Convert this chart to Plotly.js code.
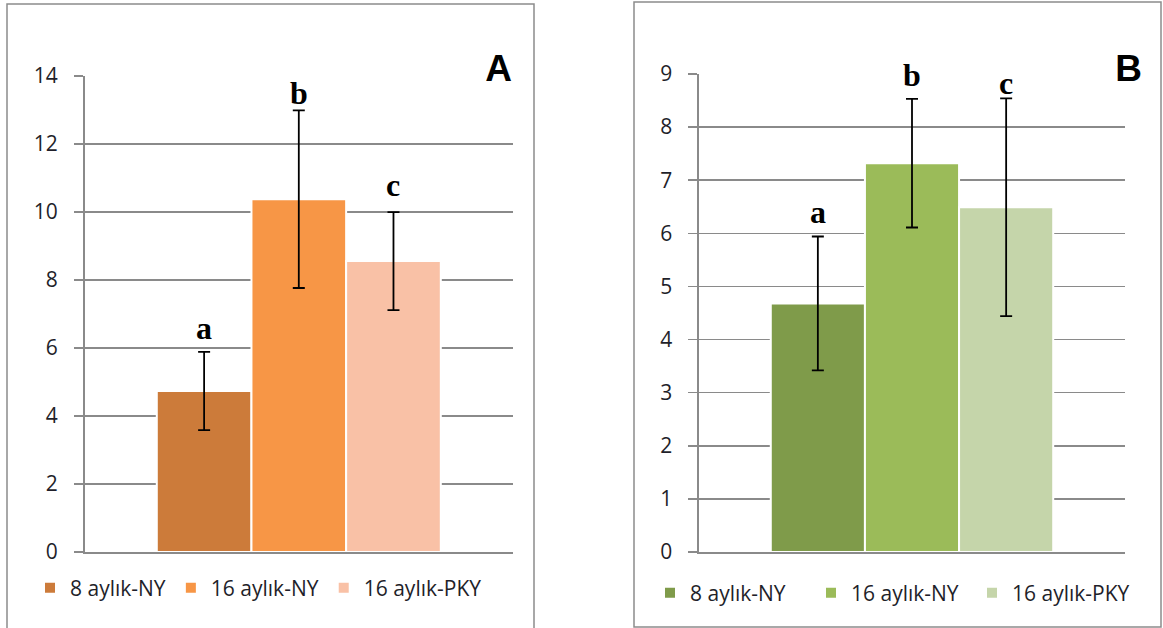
<!DOCTYPE html>
<html>
<head>
<meta charset="utf-8">
<script src="https://cdn.plot.ly/plotly-3.0.1.min.js"></script>
<style>
  html, body { margin: 0; padding: 0; background: #ffffff; }
  #chart { width: 1163px; height: 628px; }
</style>
</head>
<body>
<div id="chart"></div>
<script>
// Groups shown in both panels
const groups = ['8 aylık-NY', '16 aylık-NY', '16 aylık-PKY'];

// Panel A: means, standard errors and significance letters
const valuesA = [4.73, 10.37, 8.55];
const errorsA = [1.15, 2.61, 1.44];
const lettersA = ['a', 'b', 'c'];
const ticksA = [0, 2, 4, 6, 8, 10, 12, 14];

// Panel B: means, standard errors and significance letters
const valuesB = [4.68, 7.32, 6.49];
const errorsB = [1.26, 1.21, 2.05];
const lettersB = ['a', 'b', 'c'];
const ticksB = [0, 1, 2, 3, 4, 5, 6, 7, 8, 9];

const panelLabels = ['A', 'B'];

// ---- styling ----
const W = 1163, H = 628;
const px = x => x / W;
const py = y => 1 - y / H;

const coloursA = ['#CC7B3A', '#F79646', '#F9C1A6'];
const coloursB = ['#7F9B4A', '#9BBB59', '#C5D5AA'];
const gridColour = '#8a8a8a';
const textFont = { family: 'Open Sans, Liberation Sans, sans-serif', size: 21, color: '#1f1f2a' };
const letterFont = { family: 'Liberation Serif, serif', size: 32, color: '#000000' };
const BARGAP = 0.337;

// vertical offsets (px) of each letter above its error-bar cap
const letterLiftA = [4, -3, 7];
const letterLiftB = [5, 4, -5];

const category = ['grup'];

function panelTraces(values, errors, colours, xa, ya, legendId) {
  return groups.map((name, i) => ({
    type: 'bar',
    name: name,
    x: category,
    y: [values[i]],
    xaxis: xa,
    yaxis: ya,
    legend: legendId,
    marker: { color: colours[i], line: { color: '#ffffff', width: 2 } },
    error_y: {
      type: 'data', array: [errors[i]], visible: true,
      color: '#000000', thickness: 1.8, width: 6
    },
    hoverinfo: 'skip'
  }));
}

function letterAnnotations(values, errors, letters, lifts, xa, ya) {
  const step = (1 - BARGAP) / groups.length;
  return letters.map((t, i) => ({
    text: t,
    xref: xa, yref: ya,
    x: (i - (groups.length - 1) / 2) * step,
    y: values[i] + errors[i],
    xanchor: 'center', yanchor: 'bottom',
    yshift: lifts[i],
    showarrow: false,
    font: Object.assign({}, letterFont, { weight: 'bold' })
  }));
}

const traces = [
  ...panelTraces(valuesA, errorsA, coloursA, 'x', 'y', 'legend'),
  ...panelTraces(valuesB, errorsB, coloursB, 'x2', 'y2', 'legend2')
];

function yAxis(ticks, top, anchor) {
  return {
    domain: [py(552), py(top)],
    range: [ticks[0], ticks[ticks.length - 1]],
    tickvals: ticks,
    ticktext: ticks.map(String),
    showgrid: true, gridcolor: gridColour, gridwidth: 1.6,
    showline: true, linecolor: gridColour, linewidth: 1.6,
    zeroline: false,
    ticks: 'outside', ticklen: 9, tickwidth: 1.6, tickcolor: gridColour,
    ticklabelstandoff: 12,
    tickfont: textFont,
    anchor: anchor,
    fixedrange: true
  };
}

function xAxis(left, right, anchor) {
  return {
    domain: [px(left), px(right)],
    showticklabels: false, ticks: '',
    showgrid: false, zeroline: false,
    showline: true, linecolor: gridColour, linewidth: 1.6,
    anchor: anchor,
    fixedrange: true
  };
}

const legendBase = {
  orientation: 'h',
  font: textFont,
  bgcolor: 'rgba(0,0,0,0)',
  borderwidth: 0,
  xanchor: 'left', yanchor: 'middle',
  itemclick: false, itemdoubleclick: false
};

const layout = {
  width: W, height: H,
  margin: { l: 0, r: 0, t: 0, b: 0 },
  paper_bgcolor: '#ffffff',
  plot_bgcolor: '#ffffff',
  barmode: 'group',
  bargap: BARGAP,
  bargroupgap: 0,
  showlegend: true,
  xaxis: xAxis(84.6, 513, 'y'),
  yaxis: yAxis(ticksA, 75.7, 'x'),
  xaxis2: xAxis(699, 1125, 'y2'),
  yaxis2: yAxis(ticksB, 74, 'x2'),
  legend: Object.assign({}, legendBase, { x: px(30), y: py(588) }),
  legend2: Object.assign({}, legendBase, { x: px(650), y: py(593), entrywidth: 116 }),
  shapes: [
    { type: 'rect', xref: 'paper', yref: 'paper',
      x0: px(7), x1: px(534), y0: -0.02, y1: py(4),
      line: { color: '#8c8c8c', width: 1.5 }, fillcolor: 'rgba(0,0,0,0)' },
    { type: 'rect', xref: 'paper', yref: 'paper',
      x0: px(634), x1: px(1161), y0: py(627), y1: py(2),
      line: { color: '#8c8c8c', width: 1.5 }, fillcolor: 'rgba(0,0,0,0)' }
  ],
  annotations: [
    ...letterAnnotations(valuesA, errorsA, lettersA, letterLiftA, 'x', 'y'),
    ...letterAnnotations(valuesB, errorsB, lettersB, letterLiftB, 'x2', 'y2'),
    { text: panelLabels[0], xref: 'paper', yref: 'paper',
      x: px(514), y: py(68.5), xanchor: 'right', yanchor: 'middle',
      width: 40, align: 'right', bgcolor: '#ffffff', showarrow: false,
      font: { family: 'Liberation Sans, Arial, sans-serif', size: 37, color: '#000000', weight: 'bold' } },
    { text: panelLabels[1], xref: 'paper', yref: 'paper',
      x: px(1144), y: py(68.5), xanchor: 'right', yanchor: 'middle',
      width: 43, align: 'right', bgcolor: '#ffffff', showarrow: false,
      font: { family: 'Liberation Sans, Arial, sans-serif', size: 37, color: '#000000', weight: 'bold' } }
  ]
};

Plotly.newPlot('chart', traces, layout, { displayModeBar: false, staticPlot: true });
</script>
</body>
</html>
